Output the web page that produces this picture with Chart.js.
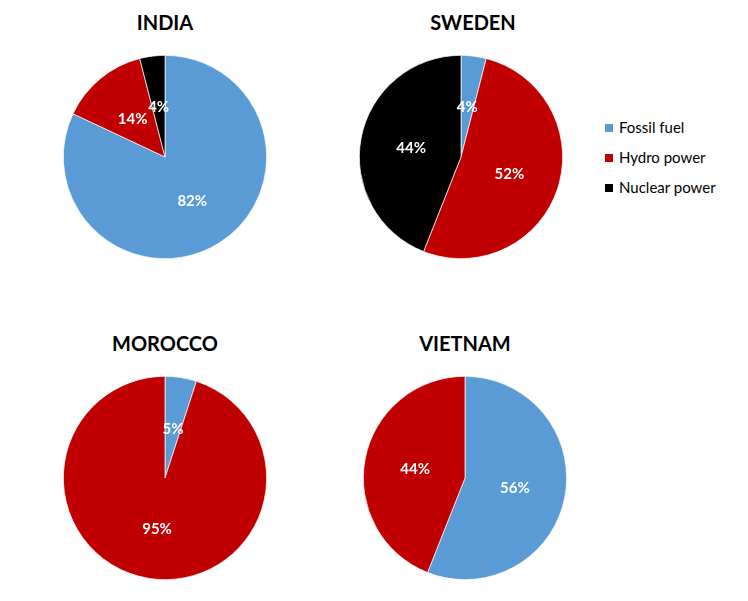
<!DOCTYPE html>
<html>
<head>
<meta charset="utf-8">
<script src="https://cdn.jsdelivr.net/npm/chart.js@4/dist/chart.umd.min.js"></script>
<style>
  html, body { margin: 0; padding: 0; background: #fff; }
  #wrap { position: relative; width: 748px; height: 601px; overflow: hidden; font-family: Lato, "Open Sans", sans-serif; }
  .ttl { position: absolute; font-weight: bold; font-size: 20px; color: #000; transform: translate(-50%, -50%); white-space: nowrap; }
  canvas { position: absolute; }
  #legend { position: absolute; left: 605px; top: 117px; font-size: 15px; color: #000; }
  #legend div { height: 30px; line-height: 20px; white-space: nowrap; }
  #legend span.sw { display: inline-block; width: 8px; height: 8px; margin-right: 6px; vertical-align: 1px; }
</style>
</head>
<body>
<div id="wrap"></div>
<script>
// ---- data ----
const sources = ["Fossil fuel", "Hydro power", "Nuclear power"];
const sourceColors = ["#5B9BD5", "#C00000", "#000000"];
const countries = ["INDIA", "SWEDEN", "MOROCCO", "VIETNAM"];
const india = [82, 14, 4];
const sweden = [4, 52, 44];
const morocco = [5, 95, 0];
const vietnam = [56, 44, 0];

// ---- layout (positions only) ----
const panels = [
  { name: countries[0], values: india,   cx: 165, cy: 157, tx: 165, ty: 22 },
  { name: countries[1], values: sweden,  cx: 461, cy: 157, tx: 473, ty: 22 },
  { name: countries[2], values: morocco, cx: 165, cy: 478, tx: 165, ty: 343 },
  { name: countries[3], values: vietnam, cx: 465, cy: 478, tx: 465, ty: 343 }
];
const SIZE = 204;

const labelPlugin = {
  id: 'pctLabels',
  afterDatasetsDraw(chart) {
    const ctx = chart.ctx;
    const meta = chart.getDatasetMeta(0);
    const data = chart.data.datasets[0].data;
    ctx.save();
    ctx.fillStyle = '#ffffff';
    ctx.font = 'bold 15px Lato, "Open Sans", sans-serif';
    ctx.textAlign = 'center';
    ctx.textBaseline = 'middle';
    meta.data.forEach((arc, i) => {
      if (!data[i]) return;
      const p = arc.tooltipPosition();
      ctx.fillText(data[i] + '%', p.x, p.y + 1);
    });
    ctx.restore();
  }
};

const wrap = document.getElementById('wrap');
panels.forEach(p => {
  const t = document.createElement('div');
  t.className = 'ttl';
  t.textContent = p.name;
  t.style.left = p.tx + 'px';
  t.style.top = p.ty + 'px';
  wrap.appendChild(t);

  const c = document.createElement('canvas');
  c.width = SIZE; c.height = SIZE;
  c.style.width = SIZE + 'px'; c.style.height = SIZE + 'px';
  c.style.left = (p.cx - SIZE / 2) + 'px';
  c.style.top = (p.cy - SIZE / 2) + 'px';
  wrap.appendChild(c);

  new Chart(c, {
    type: 'pie',
    data: {
      labels: sources,
      datasets: [{
        data: p.values,
        backgroundColor: sourceColors,
        borderColor: '#ffffff',
        borderWidth: 0.7,
        hoverOffset: 0,
        offset: 0
      }]
    },
    options: {
      responsive: false,
      animation: false,
      layout: { padding: 0 },
      plugins: { legend: { display: false }, tooltip: { enabled: false }, title: { display: false } }
    },
    plugins: [labelPlugin]
  });
});

// legend
const lg = document.createElement('div');
lg.id = 'legend';
sources.forEach((s, i) => {
  const row = document.createElement('div');
  const sw = document.createElement('span');
  sw.className = 'sw';
  sw.style.background = sourceColors[i];
  row.appendChild(sw);
  row.appendChild(document.createTextNode(s));
  lg.appendChild(row);
});
wrap.appendChild(lg);
</script>
</body>
</html>
